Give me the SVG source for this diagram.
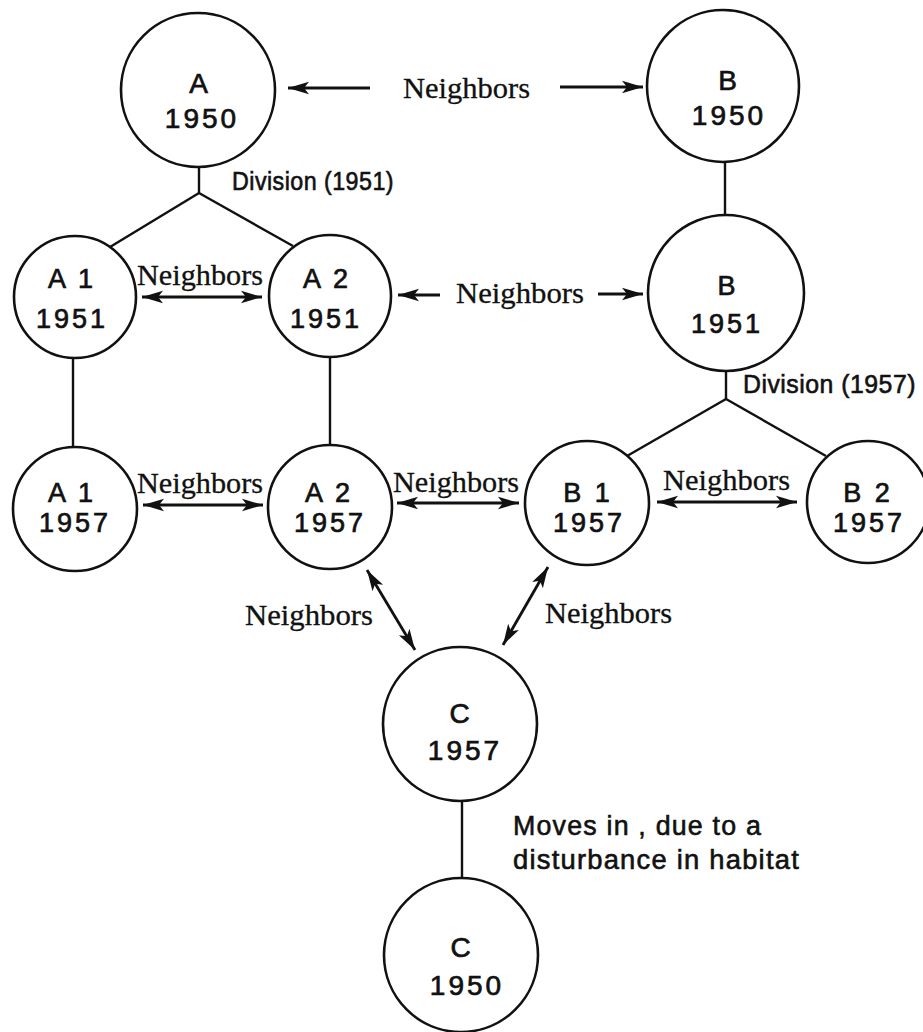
<svg xmlns="http://www.w3.org/2000/svg" width="923" height="1032" viewBox="0 0 923 1032">
<style>
.bg{fill:#ffffff}
.node{fill:#ffffff;stroke:#111;stroke-width:2.6}
.lbl{font-family:"Liberation Sans","DejaVu Sans",sans-serif;font-size:28px;fill:#111;stroke:#111;stroke-width:0.7;text-anchor:middle;letter-spacing:3px}
.lbl2{font-family:"Liberation Sans","DejaVu Sans",sans-serif;font-size:27px;fill:#111;stroke:#111;stroke-width:0.7;text-anchor:middle;letter-spacing:3px}
.ann{font-family:"Liberation Sans","DejaVu Sans",sans-serif;font-size:25px;fill:#111;stroke:#111;stroke-width:0.6;letter-spacing:0.5px}
.note{font-family:"Liberation Sans","DejaVu Sans",sans-serif;font-size:27px;fill:#111;stroke:#111;stroke-width:0.6;letter-spacing:1.2px}
.nb{font-family:"Liberation Serif","DejaVu Serif",serif;font-size:30px;fill:#111;stroke:#111;stroke-width:0.3}
.ln{stroke:#111;stroke-width:2.4;fill:none}
.arr{stroke:#111;stroke-width:2.8;fill:none;marker-end:url(#ah)}
.darr{stroke:#111;stroke-width:2.8;fill:none;marker-start:url(#ah);marker-end:url(#ah)}
</style>
<defs>
<marker id="ah" markerUnits="userSpaceOnUse" markerWidth="22" markerHeight="14" refX="21" refY="7" orient="auto-start-reverse">
<path d="M0,0.8 L21,7 L0,13.2 L5,7 z" fill="#111"/>
</marker>
</defs>
<rect class="bg" x="0" y="0" width="923" height="1032"/>

<g id="connectors">
<line class="ln" x1="199" y1="167" x2="199" y2="193"/>
<line class="ln" x1="199" y1="193" x2="110" y2="247"/>
<line class="ln" x1="199" y1="193" x2="293" y2="246"/>
<line class="ln" x1="725" y1="163" x2="725" y2="215"/>
<line class="ln" x1="726" y1="371" x2="726" y2="399"/>
<line class="ln" x1="726" y1="399" x2="627" y2="456"/>
<line class="ln" x1="726" y1="399" x2="826" y2="456"/>
<line class="ln" x1="73" y1="358" x2="73" y2="447"/>
<line class="ln" x1="330" y1="357" x2="330" y2="445"/>
<line class="ln" x1="462" y1="800" x2="462" y2="878"/>

<line class="arr" x1="370" y1="88" x2="288" y2="88"/>
<line class="arr" x1="560" y1="87" x2="643" y2="87"/>
<line class="darr" x1="142" y1="297" x2="262" y2="297"/>
<line class="arr" x1="440" y1="295" x2="398" y2="295"/>
<line class="arr" x1="598" y1="294" x2="643" y2="294"/>
<line class="darr" x1="143" y1="505" x2="263" y2="505"/>
<line class="darr" x1="397" y1="503" x2="519" y2="503"/>
<line class="darr" x1="657" y1="502" x2="797" y2="502"/>
<line class="darr" x1="367" y1="570" x2="415" y2="650"/>
<line class="darr" x1="548" y1="567" x2="503" y2="645"/>

<text class="nb" x="403" y="98" textLength="127" lengthAdjust="spacingAndGlyphs">Neighbors</text>
<text class="ann" x="232" y="190" textLength="162" lengthAdjust="spacingAndGlyphs">Division (1951)</text>
<text class="nb" x="137" y="285" textLength="126" lengthAdjust="spacingAndGlyphs">Neighbors</text>
<text class="nb" x="456" y="303" textLength="128" lengthAdjust="spacingAndGlyphs">Neighbors</text>
<text class="ann" x="743" y="393" textLength="173" lengthAdjust="spacingAndGlyphs">Division (1957)</text>
<text class="nb" x="137" y="493" textLength="126" lengthAdjust="spacingAndGlyphs">Neighbors</text>
<text class="nb" x="393" y="492" textLength="126" lengthAdjust="spacingAndGlyphs">Neighbors</text>
<text class="nb" x="663" y="490" textLength="127" lengthAdjust="spacingAndGlyphs">Neighbors</text>
<text class="nb" x="245" y="625" textLength="128" lengthAdjust="spacingAndGlyphs">Neighbors</text>
<text class="nb" x="545" y="623" textLength="127" lengthAdjust="spacingAndGlyphs">Neighbors</text>
<text class="note" x="513" y="835" textLength="249" lengthAdjust="spacingAndGlyphs">Moves in , due to a</text>
<text class="note" x="513" y="869" textLength="287" lengthAdjust="spacingAndGlyphs">disturbance in habitat</text>
</g>

<g id="A1950">
<circle class="node" cx="198" cy="90" r="77"/>
<text class="lbl" x="200" y="93">A</text>
<text class="lbl" x="202" y="128">1950</text>
</g>
<g id="B1950">
<circle class="node" cx="723" cy="86" r="76"/>
<text class="lbl" x="729" y="90">B</text>
<text class="lbl" x="729" y="125">1950</text>
</g>
<g id="A1_1951">
<circle class="node" cx="75" cy="297" r="61"/>
<text class="lbl2" x="72" y="288">A 1</text>
<text class="lbl2" x="72" y="328">1951</text>
</g>
<g id="A2_1951">
<circle class="node" cx="330" cy="296" r="61"/>
<text class="lbl2" x="327" y="288">A 2</text>
<text class="lbl2" x="326" y="328">1951</text>
</g>
<g id="B1951">
<circle class="node" cx="726" cy="293" r="78"/>
<text class="lbl2" x="728" y="295">B</text>
<text class="lbl2" x="727" y="333">1951</text>
</g>
<g id="A1_1957">
<circle class="node" cx="75" cy="509" r="62"/>
<text class="lbl2" x="72" y="502">A 1</text>
<text class="lbl2" x="75" y="532">1957</text>
</g>
<g id="A2_1957">
<circle class="node" cx="330" cy="507" r="62"/>
<text class="lbl2" x="329" y="502">A 2</text>
<text class="lbl2" x="330" y="532">1957</text>
</g>
<g id="B1_1957">
<circle class="node" cx="587" cy="503" r="62"/>
<text class="lbl2" x="588" y="502">B 1</text>
<text class="lbl2" x="589" y="532">1957</text>
</g>
<g id="B2_1957">
<circle class="node" cx="868" cy="502" r="61"/>
<text class="lbl2" x="868" y="502">B 2</text>
<text class="lbl2" x="869" y="532">1957</text>
</g>
<g id="C1957">
<circle class="node" cx="460" cy="724" r="77"/>
<text class="lbl" x="461" y="723">C</text>
<text class="lbl" x="465" y="760">1957</text>
</g>
<g id="C1950">
<circle class="node" cx="461" cy="955" r="77"/>
<text class="lbl" x="462" y="957">C</text>
<text class="lbl" x="467" y="995">1950</text>
</g>
</svg>
